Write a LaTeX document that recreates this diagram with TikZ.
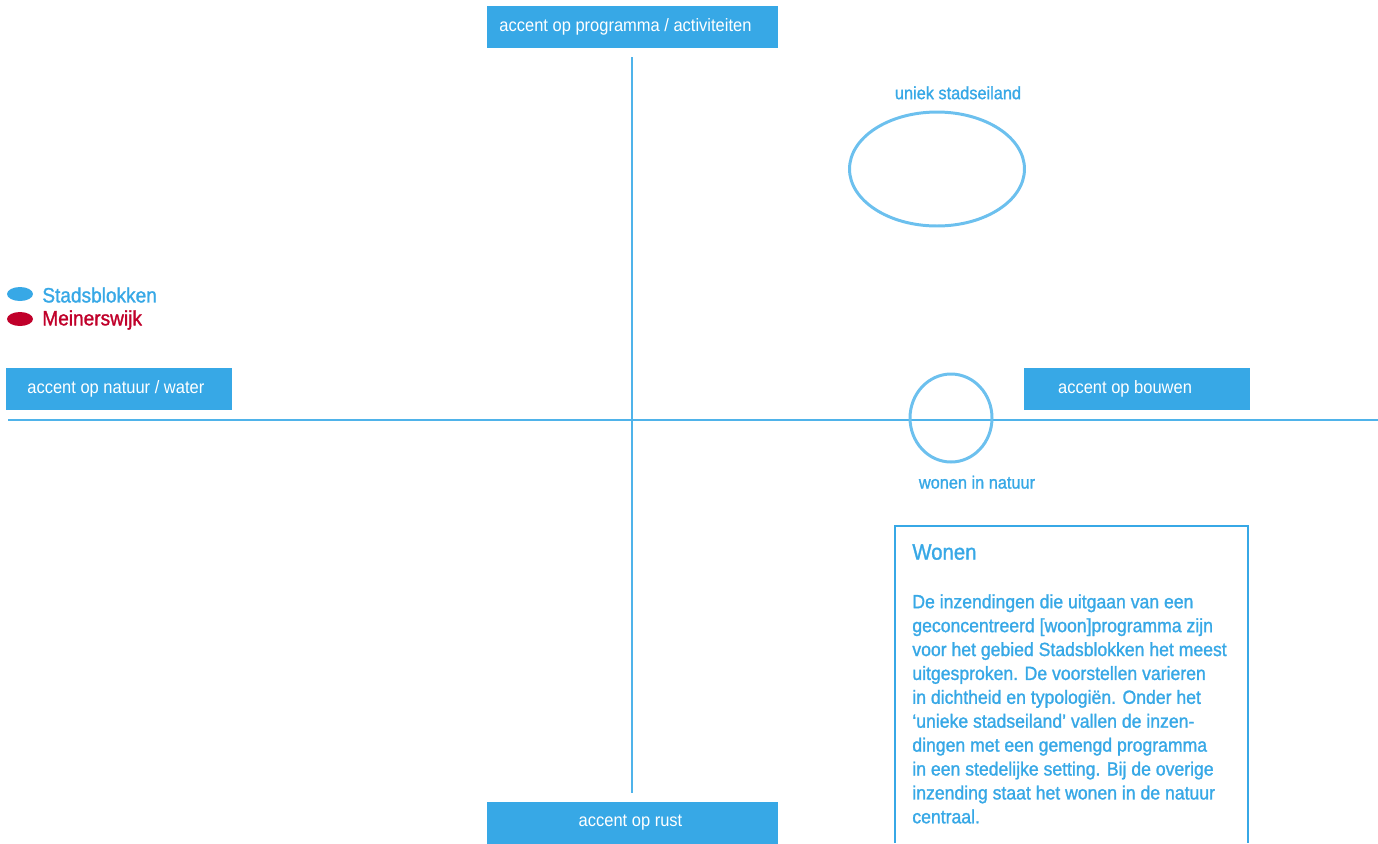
\documentclass[tikz,border=0pt]{standalone}
\usepackage{fontspec}
\setmainfont[FakeStretch=0.92]{Liberation Sans}
\newfontfamily\medfont[FakeStretch=0.92,FakeBold=1.3]{Liberation Sans}
\usetikzlibrary{positioning,shapes.geometric}
\definecolor{accentblue}{HTML}{37A8E6}
\definecolor{axisblue}{HTML}{4FB3EA}
\definecolor{ringblue}{HTML}{6CC0EE}
\definecolor{meinred}{HTML}{C0002A}
\begin{document}
\begin{tikzpicture}[x=0.02cm, y=-0.02cm,
  accent/.style={fill=accentblue, text=white, inner sep=0pt, minimum height=0.84cm,
    font=\fontsize{10.2}{12}\selectfont},
  ring/.style={draw=ringblue, line width=1.7pt},
  tag/.style={text=accentblue, font=\medfont\fontsize{10.1}{12}\selectfont},
  legend/.style={text=#1, anchor=west, inner sep=0pt, font=\medfont\fontsize{11.8}{14}\selectfont},
]
\useasboundingbox (0,0) rectangle (1378,843);

% axes
\coordinate (ntop) at (632,57);
\coordinate (nbot) at (632,793);
\coordinate (wleft) at (8,420);
\coordinate (wright) at (1378,420);
\draw[axisblue, line width=0.6pt] (ntop) -- (nbot);
\draw[axisblue, line width=0.6pt] (wleft) -- (wright);

% axis labels
\node[accent, minimum width=5.82cm] (prog) at (632.5,27) {\hspace*{-8pt}accent op programma / activiteiten};
\node[accent, minimum width=5.82cm] (rust) at (632.5,823) {\hspace*{-2.3pt}accent op rust};
\node[accent, minimum width=4.52cm] (natuur) at (119,389) {\hspace*{-3.6pt}accent op natuur / water};
\node[accent, minimum width=4.52cm] (bouwen) at (1137,389) {\hspace*{-13.6pt}accent op bouwen};

% entries
\node[ring, ellipse, minimum width=3.5cm, minimum height=2.28cm] (uniek) at (937,169) {};
\node[tag, above=0.1cm of uniek, xshift=0.42cm] (uniektxt) {uniek stadseiland};
\node[ring, ellipse, minimum width=1.64cm, minimum height=1.76cm] (natuurring) at (951,418) {};
\node[tag, below=0.12cm of natuurring, xshift=0.52cm] (natuurtxt) {wonen in natuur};

% legend
\fill[accentblue] (20,294) ellipse [x radius=13, y radius=7];
\fill[meinred] (20,319) ellipse [x radius=13, y radius=7];
\node[legend=accentblue] (stad) at (42,295) {Stadsblokken};
\node[legend=meinred] (mein) at (42,320) {Meinerswijk};

% text box
\draw[accentblue, line width=1.2pt] (895,843) -- (895,526) -- (1248,526) -- (1248,843);
\node[anchor=north west, inner sep=0pt, text=accentblue, font=\medfont\fontsize{12.6}{16}\selectfont] (wonen) at (912,544) {Wonen};
\node[anchor=north west, inner sep=0pt, text=accentblue, align=left,
  font=\medfont\fontsize{10.9}{13.6}\selectfont] (uitleg) at (912,594) {De inzendingen die uitgaan van een\\
geconcentreerd [woon]programma zijn\\
voor het gebied Stadsblokken het meest\\
uitgesproken. De voorstellen varieren\\
in dichtheid en typologiën. Onder het\\
‘unieke stadseiland’ vallen de inzen-\\
dingen met een gemengd programma\\
in een stedelijke setting. Bij de overige\\
inzending staat het wonen in de natuur\\
centraal.};
\end{tikzpicture}
\end{document}
